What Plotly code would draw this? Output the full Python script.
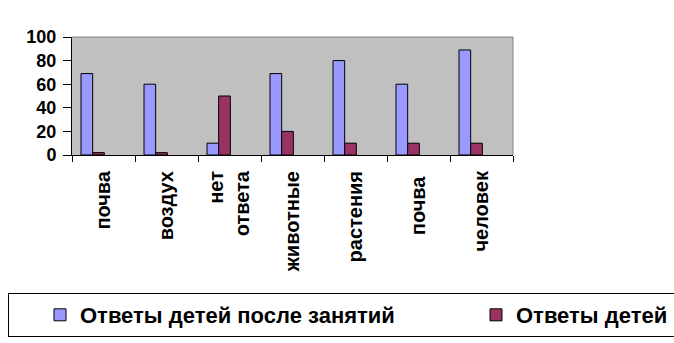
import plotly.graph_objects as go

categories = ["почва", "воздух", "нет<br>ответа", "животные", "растения", "почва ", "человек"]
after_lessons = [69, 60, 10, 69, 80, 60, 89]
before_lessons = [2, 2, 50, 20, 10, 10, 10]
series_names = ["Ответы детей после занятий", "Ответы детей"]
y_ticks = [0, 20, 40, 60, 80, 100]

FONT = "Liberation Sans, Arial, sans-serif"

fig = go.Figure()
fig.add_trace(go.Bar(
    x=categories, y=after_lessons, name=series_names[0],
    marker=dict(color="#9999FF", line=dict(color="black", width=1)),
    width=0.185, offset=-0.357, legendwidth=360,
))
fig.add_trace(go.Bar(
    x=categories, y=before_lessons, name=series_names[1],
    marker=dict(color="#993366", line=dict(color="black", width=1)),
    width=0.185, offset=-0.172, legendwidth=160,
))

fig.update_layout(
    width=674, height=343,
    margin=dict(l=72, r=0, t=37, b=188, autoexpand=False),
    paper_bgcolor="white",
    plot_bgcolor="#C0C0C0",
    barmode="overlay",
    font=dict(family=FONT, color="black"),
    showlegend=True,
    legend=dict(
        orientation="h",
        x=(8 - 72) / 602, xanchor="left",
        y=(155 - 293) / 118, yanchor="top",
        indentation=31,
        bgcolor="white", bordercolor="black", borderwidth=1,
        font=dict(family=FONT, size=22, color="black", weight="bold"),
    ),
    xaxis=dict(
        domain=[0, 441 / 602],
        type="category",
        tickson="boundaries",
        ticks="outside", ticklen=6, tickcolor="black",
        showline=True, linecolor="black", linewidth=1,
        tickangle=-90,
        tickfont=dict(family=FONT, size=20, color="black", weight="bold"),
        ticklabelstandoff=7,
        showgrid=False,
    ),
    yaxis=dict(
        range=[0, 100],
        tickvals=y_ticks,
        ticks="outside", ticklen=8, tickcolor="black",
        showline=True, linecolor="black", linewidth=1,
        tickfont=dict(family=FONT, size=18, color="black", weight="bold"),
        ticklabelstandoff=3,
        showgrid=False, zeroline=False,
    ),
)

# grey frame on the top and right edges of the plotting area
fig.add_shape(type="line", xref="x domain", yref="y domain",
              x0=0, x1=1, y0=1, y1=1, line=dict(color="#808080", width=1))
fig.add_shape(type="line", xref="x domain", yref="y domain",
              x0=1, x1=1, y0=0, y1=1, line=dict(color="#808080", width=1))

fig.write_html("out.html")
